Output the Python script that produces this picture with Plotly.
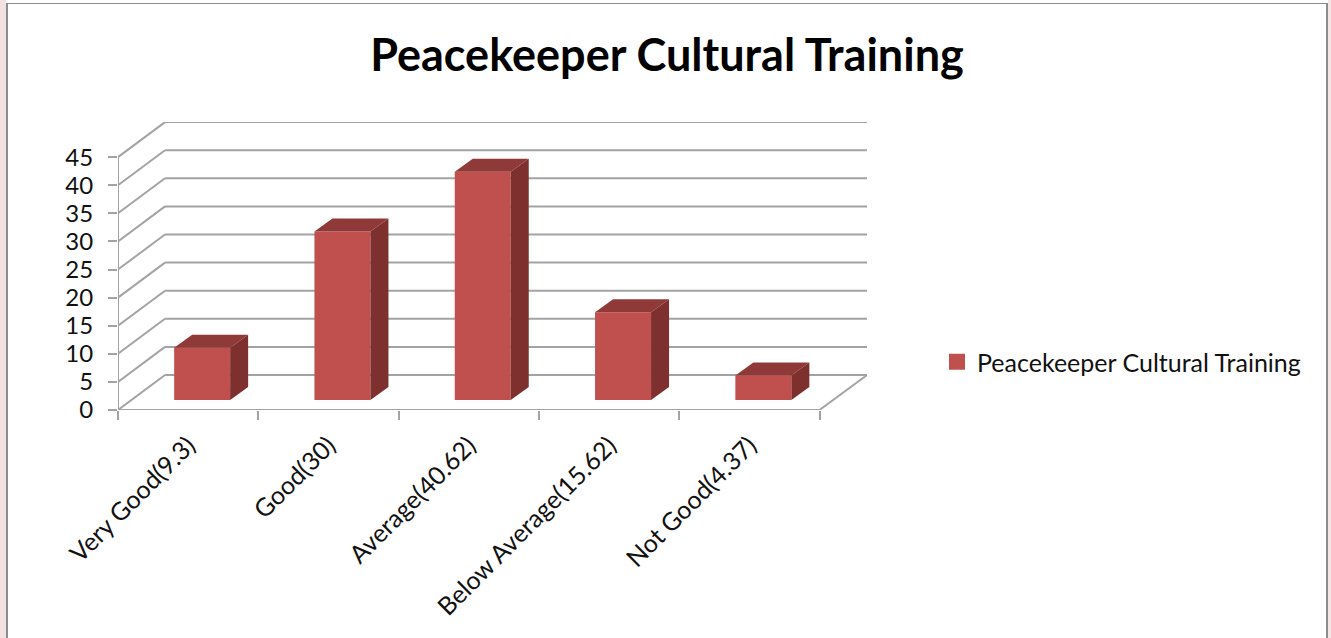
import plotly.graph_objects as go

categories = ["Very Good(9.3)", "Good(30)", "Average(40.62)", "Below Average(15.62)", "Not Good(4.37)"]
values = [9.3, 30, 40.62, 15.62, 4.37]
y_ticks = [0, 5, 10, 15, 20, 25, 30, 35, 40, 45]
series_name = "Peacekeeper Cultural Training"
title_text = "Peacekeeper Cultural Training"

FRONT, TOP, SIDE = "#c0504d", "#8f3a38", "#7d302e"
GRID = "#a3a3a3"
W, H = 1331, 638
X0, Y0, XR, YT = 118, 410, 867, 122
PX_CAT, PX_VAL = 140.3, 5.62
xmax = (XR - X0) / PX_CAT
ymax = (Y0 - YT) / PX_VAL
wall_dx, wall_dy = 47 / PX_CAT, 35 / PX_VAL
bar_w = 56 / PX_CAT
bar_dx, bar_dy = 18 / PX_CAT, 13 / PX_VAL
bar_shift, bar_base = 14 / PX_CAT, 10 / PX_VAL

centers = [i + 0.5 for i in range(len(categories))]
fronts = [c + bar_shift for c in centers]

fig = go.Figure()
fig.add_trace(go.Bar(x=fronts, y=values, base=bar_base, width=bar_w, marker=dict(color=FRONT, line=dict(width=0)),
                     showlegend=False, hoverinfo="skip"))
for f, v in zip(fronts, values):
    l, r, b, t = f - bar_w / 2, f + bar_w / 2, bar_base, bar_base + v
    fig.add_trace(go.Scatter(x=[l, l + bar_dx, r + bar_dx, r, l], y=[t, t + bar_dy, t + bar_dy, t, t],
                             fill="toself", fillcolor=TOP, mode="lines", line=dict(width=0),
                             showlegend=False, hoverinfo="skip"))
    fig.add_trace(go.Scatter(x=[r, r + bar_dx, r + bar_dx, r, r], y=[t, t + bar_dy, b + bar_dy, b, t],
                             fill="toself", fillcolor=SIDE, mode="lines", line=dict(width=0),
                             showlegend=False, hoverinfo="skip"))
fig.add_trace(go.Scatter(x=[None], y=[None], mode="markers", name=series_name,
                         marker=dict(symbol="square", size=16, color=FRONT)))

shapes = []
def seg(x0, y0, x1, y1, w=2, c=GRID):
    shapes.append(dict(type="line", xref="x", yref="y", x0=x0, y0=y0, x1=x1, y1=y1, layer="below",
                       line=dict(color=c, width=w)))
for v in y_ticks:
    seg(0, v, wall_dx, v + wall_dy)
    seg(wall_dx, v + wall_dy, xmax, v + wall_dy)
seg(0, 0, 0, y_ticks[-1])
seg(0, 0, len(categories), 0)
seg(len(categories), 0, xmax, wall_dy)

# page decoration: pink margins and grey frame
def rect(x0, y0, x1, y1, color):
    shapes.append(dict(type="rect", xref="paper", yref="paper", layer="below", line=dict(width=0), fillcolor=color,
                       x0=(x0 - X0) / (XR - X0), x1=(x1 - X0) / (XR - X0),
                       y0=(Y0 - y0) / (Y0 - YT), y1=(Y0 - y1) / (Y0 - YT)))
rect(0, 0, 6, H, "#f3e0e0")
rect(1328, 0, W, H, "#f5e6e6")
rect(6, 3, 8, H, "#8c8c8c")
rect(1326, 3, 1328, H, "#8c8c8c")
rect(6, 3, 1328, 4, "#8c8c8c")

font = "Lato, sans-serif"
fig.update_layout(
    width=W, height=H, autosize=False,
    margin=dict(l=X0, r=W - XR, t=YT, b=H - Y0),
    paper_bgcolor="white", plot_bgcolor="rgba(0,0,0,0)",
    font=dict(family=font, color="#111111", size=24),
    title=dict(text=f"<b>{title_text}</b>", x=667 / W, xanchor="center", y=1 - 55 / H, yanchor="middle",
               xref="container", yref="container", font=dict(family=font, size=45, color="black")),
    xaxis=dict(range=[0, xmax], tickmode="array", tickvals=centers, ticktext=categories, tickangle=-45,
               tickfont=dict(size=25), showgrid=False, zeroline=False, showline=False, ticks="", ticklabelstandoff=15,
               minor=dict(tickmode="array", tickvals=list(range(len(categories) + 1)), ticks="outside", ticklen=9,
                          tickwidth=2, tickcolor=GRID, showgrid=False)),
    yaxis=dict(range=[0, ymax], tickmode="array", tickvals=y_ticks, showgrid=False, zeroline=False, showline=False,
               ticks="outside", ticklen=9, tickwidth=2, tickcolor=GRID, ticklabelstandoff=10),
    legend=dict(xref="container", yref="container", x=937 / W, xanchor="left", y=1 - 362 / H, yanchor="middle",
                bgcolor="rgba(0,0,0,0)", font=dict(family=font, size=25, color="#111111"), itemwidth=30),
    shapes=shapes,
)
fig.write_html("out.html", config=dict(displayModeBar=False),
               post_script="document.body.style.margin='0';document.body.style.overflow='hidden';")
